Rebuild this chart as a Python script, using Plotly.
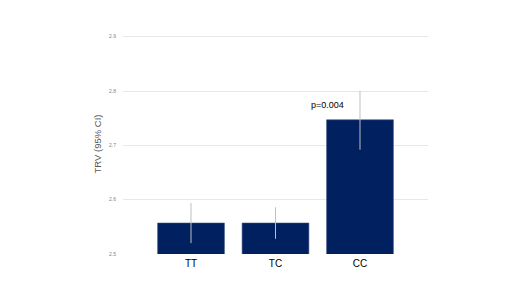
import plotly.graph_objects as go

categories = ["TT", "TC", "CC"]
means = [2.557, 2.557, 2.747]
ci_upper = [2.594, 2.586, 2.800]
ci_lower = [2.520, 2.528, 2.692]
y_ticks = [2.5, 2.6, 2.7, 2.8, 2.9]
p_label = "p=0.004"

err_plus = [u - m for u, m in zip(ci_upper, means)]
err_minus = [m - l for m, l in zip(means, ci_lower)]

fig = go.Figure()
fig.add_trace(go.Bar(
    x=categories, y=means,
    marker=dict(color="#002060", line=dict(color="#3a4f80", width=0.6)),
    error_y=dict(type="data", symmetric=False, array=err_plus, arrayminus=err_minus,
                 color="#bfbfbf", thickness=1, width=0),
))
fig.add_annotation(x="CC", y=2.775, xshift=-32, text=p_label, showarrow=False,
                   font=dict(family="Liberation Sans, Arial", size=9, color="#000000"))

fig.update_layout(
    width=520, height=292,
    margin=dict(l=115, r=100, t=26, b=46),
    paper_bgcolor="white", plot_bgcolor="white",
    bargap=0.21, showlegend=False,
    xaxis=dict(range=[-0.805, 2.805], showgrid=False, showline=False, ticks="",
               ticklabelstandoff=2,
               tickfont=dict(family="Liberation Sans, Arial", size=10, color="#000000")),
    yaxis=dict(range=[2.5, 2.905], tickvals=y_ticks, tickformat=".1f",
               showgrid=True, gridcolor="#e8e8e8", gridwidth=1, zeroline=False,
               showline=False, ticks="", ticklabelstandoff=6,
               tickfont=dict(family="Liberation Sans, Arial", size=5, color="#7f7f7f"),
               title=dict(text="TRV (95% CI)", standoff=5,
                          font=dict(family="Liberation Sans, Arial", size=9.5, color="#595959"))),
)
fig.write_html("out.html")
